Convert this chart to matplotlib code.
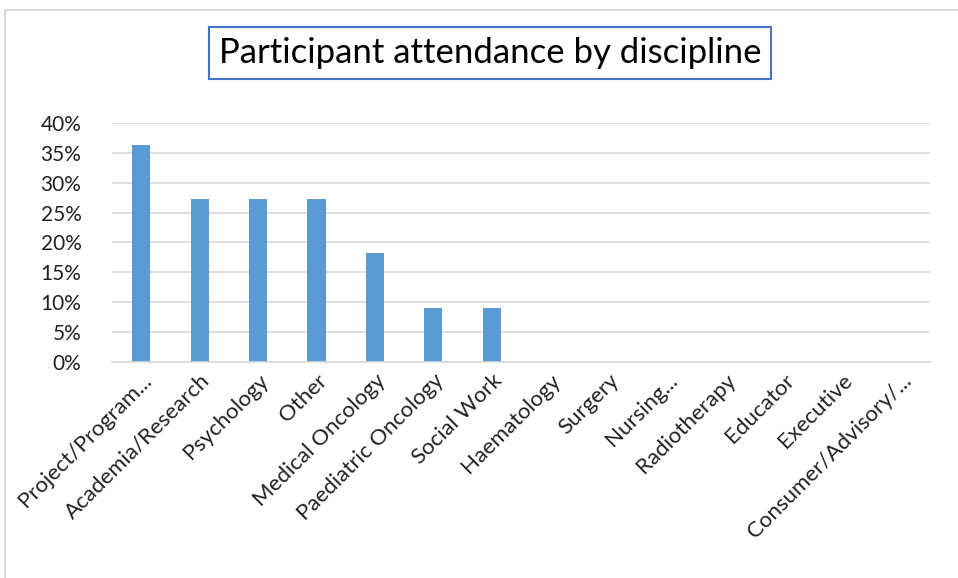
import numpy as np
import matplotlib
matplotlib.use("Agg")
import matplotlib.pyplot as plt
from matplotlib.ticker import PercentFormatter
from matplotlib.lines import Line2D

plt.rcParams['font.family'] = ['Lato', 'DejaVu Sans']

disciplines = ["Project/Program...", "Academia/Research", "Psychology", "Other",
               "Medical Oncology", "Paediatric Oncology", "Social Work", "Haematology",
               "Surgery", "Nursing...", "Radiotherapy", "Educator", "Executive",
               "Consumer/Advisory/..."]
attendance = [36.4, 27.3, 27.3, 27.3, 18.2, 9.1, 9.1, 0, 0, 0, 0, 0, 0, 0]

W, H = 958, 578
fig = plt.figure(figsize=(W / 100, H / 100), dpi=100)
ax = fig.add_axes([112 / W, 1 - 362 / H, 818 / W, (362 - 123) / H])

x = np.arange(len(disciplines))
ax.bar(x, attendance, width=0.31, color="#5b9bd5")
ax.set_xlim(-0.5, len(disciplines) - 0.5)
ax.set_ylim(0, 40)
ax.set_yticks(np.arange(0, 41, 5))
ax.yaxis.set_major_formatter(PercentFormatter(decimals=0))
ax.grid(axis="y", color="#d9d9d9", linewidth=1.2)
ax.set_axisbelow(True)
for s in ["top", "right", "left"]:
    ax.spines[s].set_visible(False)
ax.spines["bottom"].set_color("#d9d9d9")
ax.spines["bottom"].set_linewidth(1.2)
ax.tick_params(axis="both", length=0, colors="#222222")
ax.tick_params(axis="y", pad=22, labelsize=15)
ax.set_xticks(x)
ax.set_xticklabels(disciplines, rotation=45, ha="right", rotation_mode="anchor")
ax.tick_params(axis="x", pad=6, labelsize=16)

# outer chart frame (only top and left edges are visible in the crop)
fig.lines.append(Line2D([5 / W, 5 / W, 1], [0, 1 - 10 / H, 1 - 10 / H],
                        transform=fig.transFigure, color="#d9d9d9", linewidth=1.5))

fig.text(490 / W, 1 - 53 / H, "Participant attendance by discipline", fontsize=25,
         ha="center", va="center",
         bbox=dict(boxstyle="square,pad=0.28", facecolor="white", edgecolor="#4472c4", linewidth=1.5))

fig.savefig("out.png", dpi=100)
